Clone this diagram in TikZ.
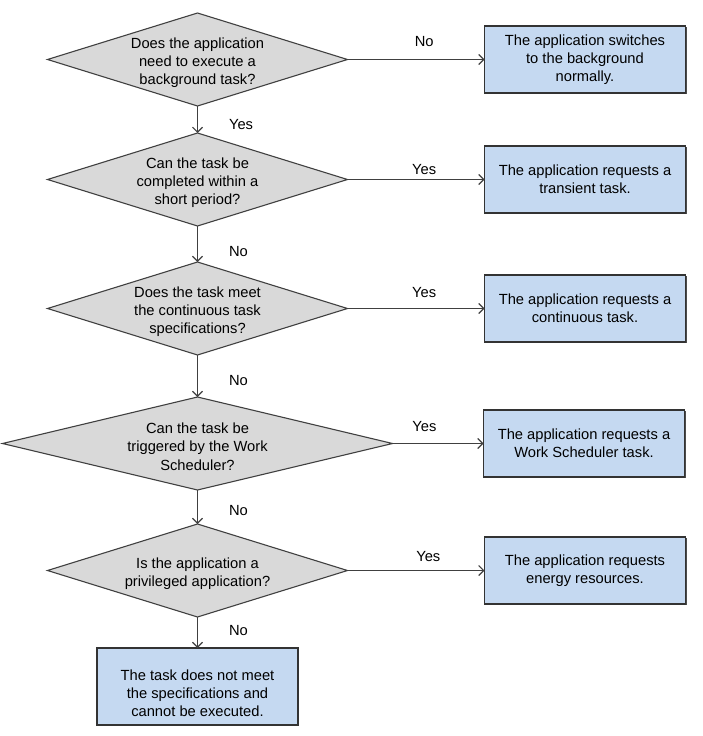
\documentclass[tikz,border=0pt]{standalone}
\usepackage{fontspec}
\setmainfont{Liberation Sans}
\usetikzlibrary{shapes.geometric,positioning,arrows.meta,shadows}
\definecolor{boxblue}{RGB}{197,217,241}
\newcommand{\qstrut}{\rule{0pt}{16.7pt}}

\begin{document}
\begin{tikzpicture}[x=1pt, y=1pt, font=\fontsize{14.7}{18.3}\selectfont,
  decision/.style={diamond, draw=black!75, line width=1.1pt, fill=black!15, aspect=3.2, minimum width=300pt, minimum height=93pt,
    inner xsep=0pt, inner ysep=-3pt, outer sep=0pt, align=center},
  action/.style={rectangle, draw=black!80, line width=1.1pt, fill=boxblue, minimum width=201pt, minimum height=67pt, inner sep=0pt, outer sep=0pt, align=center,
    drop shadow={shadow xshift=1pt, shadow yshift=-1pt, fill=black!70, opacity=1}},
  flow/.style={draw=black!75, line width=1.1pt, -{Straight Barb[length=5pt, width=10pt]}},
  lbl/.style={inner sep=1pt, text height=10.5pt, text depth=0pt}]
  \useasboundingbox (0,0) rectangle (703,-736);

  \node[decision] (d1) at (197.5,-59.5) {\qstrut Does the application\\need to execute a\\background task?};
  \node[decision, below=27pt of d1] (d2) {\qstrut Can the task be\\completed within a\\short period?};
  \node[decision, below=36pt of d2] (d3) {\qstrut Does the task meet\\the continuous task\\specifications?};
  \node[decision, below=42pt of d3, minimum width=390pt, aspect=4.2] (d4) {\qstrut Can the task be\\triggered by the Work\\Scheduler?};
  \node[decision, below=34pt of d4] (d5) {\qstrut Is the application a\\privileged application?};

  \node[action, right=137pt of d1] (b1) {The application switches\\to the background\\normally.};
  \node[action, right=137pt of d2] (b2) {The application requests a\\transient task.};
  \node[action, right=137pt of d3] (b3) {The application requests a\\continuous task.};
  \node[action, right=91pt of d4] (b4) {The application requests a\\Work Scheduler task.};
  \node[action, right=137pt of d5] (b5) {The application requests\\energy resources.};
  \node[action, below=31pt of d5, minimum height=77pt] (b6) {\rule{0pt}{24pt}The task does not meet\\the specifications and\\cannot be executed.};

  \path (d1) edge[flow] node[lbl, above=11pt, pos=0.56] {No} (b1);
  \path (d2) edge[flow] node[lbl, above=3pt, pos=0.56] {Yes} (b2);
  \path (d3) edge[flow] node[lbl, above=9pt, pos=0.56] {Yes} (b3);
  \path (d4) edge[flow] node[lbl, above=10pt, pos=0.35] {Yes} (b4);
  \path (d5) edge[flow] node[lbl, above=7pt, pos=0.59] {Yes} (b5);

  \path (d1) edge[flow] node[lbl, right=30pt, pos=0.67] {Yes} (d2);
  \path (d2) edge[flow] node[lbl, right=30pt, pos=0.71] {No} (d3);
  \path (d3) edge[flow] node[lbl, right=30pt, pos=0.59] {No} (d4);
  \path (d4) edge[flow] node[lbl, right=30pt, pos=0.59] {No} (d5);
  \path (d5) edge[flow] node[lbl, right=30pt, pos=0.42] {No} (b6);
\end{tikzpicture}
\end{document}
